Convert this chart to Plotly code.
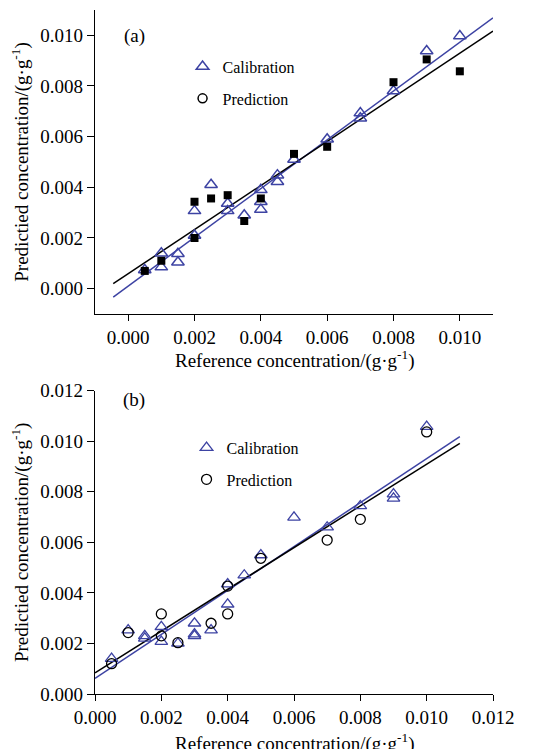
import plotly.graph_objects as go

# ---------------- data ----------------
# Panel (a)
xa_cal = [0.0005, 0.001, 0.001, 0.0015, 0.0015, 0.002, 0.002, 0.0025, 0.003, 0.003, 0.0035,
          0.004, 0.004, 0.004, 0.0045, 0.0045, 0.005, 0.006, 0.007, 0.007, 0.008, 0.009, 0.010]
ya_cal = [0.00074, 0.0014, 0.00085, 0.00138, 0.00104, 0.00307, 0.0021, 0.0041, 0.00336, 0.00307, 0.0029,
          0.0039, 0.00343, 0.00312, 0.00448, 0.00422, 0.0051, 0.0059, 0.00693, 0.00673, 0.0078, 0.00938, 0.00997]
xa_pre = [0.0005, 0.001, 0.002, 0.002, 0.0025, 0.003, 0.0035, 0.004, 0.005, 0.006, 0.008, 0.009, 0.010]
ya_pre = [0.0007, 0.0011, 0.0020, 0.00343, 0.00356, 0.00369, 0.00267, 0.00356, 0.00532, 0.0056, 0.00815, 0.00905, 0.00858]
# fitted lines (slope, intercept, x-extent)
fit_a_cal = (0.963, 0.0001)
fit_a_pre = (0.8706, 0.00059)
fit_a_x = [-0.00045, 0.011]

# Panel (b)
xb_cal = [0.0005, 0.001, 0.0015, 0.0015, 0.002, 0.002, 0.0025, 0.003, 0.003, 0.003, 0.0035,
          0.004, 0.004, 0.0045, 0.005, 0.006, 0.007, 0.008, 0.009, 0.009, 0.010]
yb_cal = [0.0014, 0.00253, 0.0023, 0.0022, 0.00266, 0.00207, 0.0020, 0.0028, 0.00237, 0.0023, 0.00253,
          0.00435, 0.00355, 0.0047, 0.0055, 0.00699, 0.0066, 0.00744, 0.00791, 0.00774, 0.01058]
xb_pre = [0.0005, 0.001, 0.002, 0.002, 0.0025, 0.0035, 0.004, 0.004, 0.005, 0.007, 0.008, 0.010]
yb_pre = [0.0012, 0.00243, 0.00317, 0.0023, 0.00203, 0.0028, 0.00427, 0.00317, 0.00537, 0.00609, 0.00691, 0.01037]
fit_b_cal = (0.869, 0.00062)
fit_b_pre = (0.8255, 0.00084)
fit_b_x = [0.0, 0.011]

ticks_a = [0.000, 0.002, 0.004, 0.006, 0.008, 0.010]
ticks_b = [0.000, 0.002, 0.004, 0.006, 0.008, 0.010, 0.012]

BLUE = "#3d43a3"
FONT = "Liberation Serif, Times New Roman, serif"


def line_y(fit, xs):
    return [fit[0] * x + fit[1] for x in xs]


fig = go.Figure()

# ---- panel (a) ----
fig.add_trace(go.Scatter(x=fit_a_x, y=line_y(fit_a_cal, fit_a_x), mode="lines",
                         line=dict(color=BLUE, width=1.5), showlegend=False, xaxis="x", yaxis="y"))
fig.add_trace(go.Scatter(x=fit_a_x, y=line_y(fit_a_pre, fit_a_x), mode="lines",
                         line=dict(color="black", width=1.5), showlegend=False, xaxis="x", yaxis="y"))
fig.add_trace(go.Scatter(x=xa_cal, y=ya_cal, mode="markers", showlegend=False,
                         marker=dict(symbol="triangle-up-open", size=11, color=BLUE, line=dict(width=1.5)),
                         xaxis="x", yaxis="y"))
fig.add_trace(go.Scatter(x=xa_pre, y=ya_pre, mode="markers", showlegend=False,
                         marker=dict(symbol="square", size=8, color="black"),
                         xaxis="x", yaxis="y"))
# legend entries (a)
fig.add_trace(go.Scatter(x=[None], y=[None], mode="markers", name="Calibration", legend="legend",
                         legendgroup="a1",
                         marker=dict(symbol="triangle-up-open", size=11, color=BLUE, line=dict(width=1.5)),
                         xaxis="x", yaxis="y"))
fig.add_trace(go.Scatter(x=[None], y=[None], mode="markers", name="Prediction", legend="legend",
                         legendgroup="a2",
                         marker=dict(symbol="circle-open", size=9, color="black", line=dict(width=1.5)),
                         xaxis="x", yaxis="y"))

# ---- panel (b) ----
fig.add_trace(go.Scatter(x=fit_b_x, y=line_y(fit_b_cal, fit_b_x), mode="lines",
                         line=dict(color=BLUE, width=1.5), showlegend=False, xaxis="x2", yaxis="y2"))
fig.add_trace(go.Scatter(x=fit_b_x, y=line_y(fit_b_pre, fit_b_x), mode="lines",
                         line=dict(color="black", width=1.5), showlegend=False, xaxis="x2", yaxis="y2"))
fig.add_trace(go.Scatter(x=xb_cal, y=yb_cal, mode="markers", name="Calibration", legend="legend2",
                         legendgroup="b1",
                         marker=dict(symbol="triangle-up-open", size=11, color=BLUE, line=dict(width=1.3)),
                         xaxis="x2", yaxis="y2"))
fig.add_trace(go.Scatter(x=xb_pre, y=yb_pre, mode="markers", name="Prediction", legend="legend2",
                         legendgroup="b2",
                         marker=dict(symbol="circle-open", size=10, color="black", line=dict(width=1.3)),
                         xaxis="x2", yaxis="y2"))

axis_common = dict(showline=True, linecolor="black", linewidth=1.3, ticks="outside",
                   tickcolor="black", tickwidth=1.3, showgrid=False, zeroline=False,
                   tickformat=".3f", tickfont=dict(family=FONT, size=19, color="black"),
                   mirror=False, automargin=False)
ytitle = "Predictied concentration/(g·g<sup>-1</sup>)"
xtitle = "Reference concentration/(g·g<sup>-1</sup>)"

legend_common = dict(font=dict(family=FONT, size=16, color="black"), bgcolor="rgba(0,0,0,0)",
                     tracegroupgap=8, xanchor="left", yanchor="top", itemsizing="trace")

fig.update_layout(
    width=540, height=749,
    margin=dict(l=95, r=47, t=10, b=55, autoexpand=False),
    paper_bgcolor="white", plot_bgcolor="white",
    font=dict(family=FONT, color="black"),
    xaxis=dict(domain=[0, 1], range=[-0.001, 0.011], tickvals=ticks_a, ticklen=6, anchor="y",
               **axis_common),
    yaxis=dict(domain=[0.5556, 1], range=[-0.001, 0.011], tickvals=ticks_a, ticklen=7, anchor="x",
               title=dict(text=ytitle, font=dict(family=FONT, size=19), standoff=6), **axis_common),
    xaxis2=dict(domain=[0, 1], range=[0, 0.012], tickvals=ticks_b, ticklen=6, anchor="y2",
                **axis_common),
    yaxis2=dict(domain=[0, 0.4434], range=[0, 0.012], tickvals=ticks_b, ticklen=7, anchor="x2",
                title=dict(text=ytitle, font=dict(family=FONT, size=19), standoff=6), **axis_common),
    legend=dict(x=0.22, y=0.942, **legend_common),
    legend2=dict(x=0.23, y=0.385, **legend_common),
    annotations=[
        dict(text="(a)", xref="x domain", yref="y domain", x=0.098, y=0.914, xanchor="center",
             yanchor="middle", showarrow=False, font=dict(family=FONT, size=19, color="black")),
        dict(text="(b)", xref="x2 domain", yref="y2 domain", x=0.098, y=0.969, xanchor="center",
             yanchor="middle", showarrow=False, font=dict(family=FONT, size=19, color="black")),
        dict(text=xtitle, xref="x domain", yref="y domain", x=0.5, y=0, xanchor="center",
             yanchor="middle", yshift=-46, showarrow=False, font=dict(family=FONT, size=19, color="black")),
        dict(text=xtitle, xref="x2 domain", yref="y2 domain", x=0.5, y=0, xanchor="center",
             yanchor="middle", yshift=-48, showarrow=False, font=dict(family=FONT, size=19, color="black")),
    ],
)

fig.write_html("out.html")
